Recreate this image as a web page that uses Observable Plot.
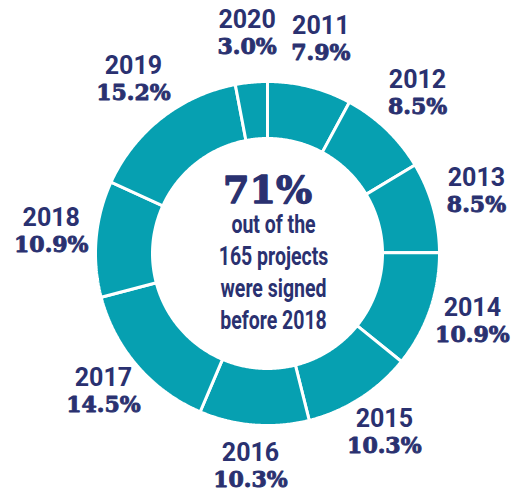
<!DOCTYPE html>
<html>
<head>
<meta charset="utf-8">
<script src="https://cdn.jsdelivr.net/npm/d3@7"></script>
<script src="https://cdn.jsdelivr.net/npm/@observablehq/plot@0.6"></script>
<style>
  html, body { margin: 0; padding: 0; background: #fff; }
  #chart svg { display: block; }
</style>
</head>
<body>
<div id="chart"></div>
<script>
// ---- data ----
const years = ["2011", "2012", "2013", "2014", "2015", "2016", "2017", "2018", "2019", "2020"];
const shares = [7.9, 8.5, 8.5, 10.9, 10.3, 10.3, 14.5, 10.9, 15.2, 3.0];
const centerFigure = "71%";
const centerLines = ["out of the", "165 projects", "were signed", "before 2018"];

// ---- styling ----
const teal = "#06a0b1";
const navy = "#2a3170";
const W = 515, H = 491;
const outerR = 172, innerR = 115, labelR = 217;

// ---- derived geometry ----
const total = d3.sum(shares);
const ends = Array.from(d3.cumsum(shares));
const segs = years.map((year, i) => {
  const a0 = (ends[i] - shares[i]) / total * 2 * Math.PI;
  const a1 = ends[i] / total * 2 * Math.PI;
  return {year, share: shares[i], a0, a1, mid: (a0 + a1) / 2};
});

const ring = [];
for (const s of segs) {
  const n = Math.max(2, Math.ceil((s.a1 - s.a0) / (Math.PI / 360)));
  const pts = [];
  for (let k = 0; k <= n; k++) {
    const a = s.a0 + (s.a1 - s.a0) * k / n;
    pts.push({year: s.year, x: outerR * Math.sin(a), y: outerR * Math.cos(a)});
  }
  for (let k = n; k >= 0; k--) {
    const a = s.a0 + (s.a1 - s.a0) * k / n;
    pts.push({year: s.year, x: innerR * Math.sin(a), y: innerR * Math.cos(a)});
  }
  pts.push({...pts[0]});
  ring.push(...pts);
}

const labels = segs.map(s => ({
  year: s.year,
  pct: s.share.toFixed(1) + "%",
  x: labelR * Math.sin(s.mid),
  y: labelR * Math.cos(s.mid)
}));

const chart = Plot.plot({
  width: W,
  height: H,
  margin: 0,
  x: {type: "linear", domain: [-267, W - 267], axis: null},
  y: {type: "linear", domain: [-(H - 253), 253], axis: null},
  marks: [
    Plot.line(ring, {x: "x", y: "y", z: "year", fill: teal, stroke: "white", strokeWidth: 3, strokeLinejoin: "miter", curve: "linear"}),
    Plot.text(labels, {x: "x", y: "y", text: "year", dy: -9, lineAnchor: "bottom", textAnchor: "middle",
      fill: navy, fontFamily: "Roboto, 'Liberation Sans', sans-serif", fontWeight: 700, fontSize: 25}),
    Plot.text(labels, {x: "x", y: "y", text: "pct", dy: 17, lineAnchor: "bottom", textAnchor: "middle",
      fill: navy, stroke: navy, strokeWidth: 0.9, fontFamily: "'DejaVu Serif', serif", fontWeight: 700, fontSize: 22}),
    Plot.text([centerFigure], {x: () => 0, y: () => 0, text: d => d, dy: -51, lineAnchor: "bottom", textAnchor: "middle",
      fill: navy, stroke: navy, strokeWidth: 1.3, fontFamily: "'DejaVu Serif', serif", fontWeight: 700, fontSize: 38}),
    Plot.text([centerLines.join("\n")], {x: () => 0, y: () => 0, text: d => d, dx: 6, dy: 75, lineAnchor: "bottom", textAnchor: "middle",
      lineHeight: 1.28, fill: navy, fontFamily: "Roboto, sans-serif", fontWeight: 700, fontSize: 25, ariaDescription: "center-note"})
  ]
});
// condense the centre note horizontally (narrow type as in the reference)
d3.select(chart).selectAll("text").filter(function() {
  return (this.textContent || "").includes("projects");
}).each(function() {
  const t = this.getAttribute("transform") || "";
  this.setAttribute("transform", (t + " scale(0.78,1)").trim());
});
document.getElementById("chart").appendChild(chart);
</script>
</body>
</html>
